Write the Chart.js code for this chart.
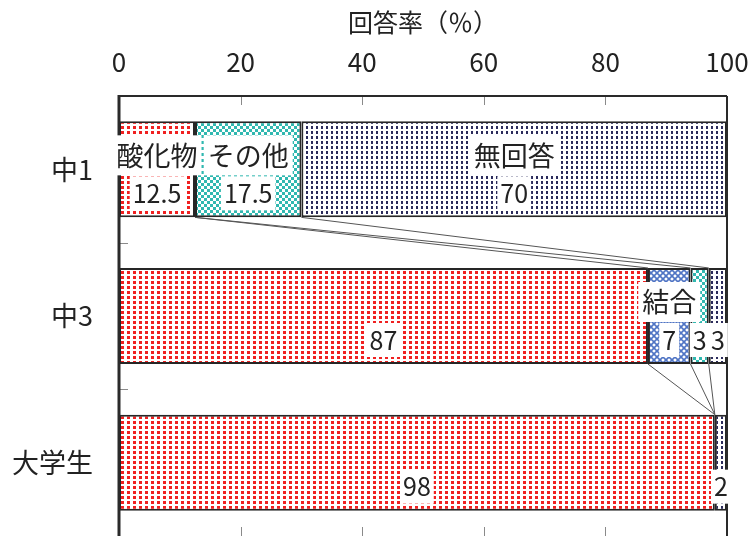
<!DOCTYPE html>
<html lang="ja">
<head>
  <meta charset="UTF-8" />
  <title>回答率</title>
  <script src="https://cdn.jsdelivr.net/npm/chart.js"></script>
  <style>
    body { margin: 0; background: #ffffff; overflow: hidden; }
    #wrap { width: 750px; height: 536px; }
    canvas { display: block; }
  </style>
</head>
<body>
<div id="wrap"><canvas id="rateChart" width="750" height="536"></canvas></div>

<script>
  const groups = ["中1", "中3", "大学生"];
  const seriesNames = ["酸化物", "結合", "その他", "無回答"];
  const oxideVals  = [12.5, 87, 98];
  const bondVals   = [0, 7, 0];
  const otherVals  = [17.5, 3, 0];
  const noAnsVals  = [70, 3, 2];
  // which segments also print the series name above the value
  const oxideName = [true, false, false];
  const bondName  = [false, true, false];
  const otherName = [true, false, false];
  const noAnsName = [true, false, false];
  const xTicks = [0, 20, 40, 60, 80, 100];

  const FONT = '"Noto Sans CJK JP", "Noto Sans", sans-serif';
  const INK = "#222222";

  function makePattern(w, h, draw) {
    const c = document.createElement("canvas");
    c.width = w; c.height = h;
    const g = c.getContext("2d");
    g.fillStyle = "#ffffff";
    g.fillRect(0, 0, w, h);
    draw(g);
    return g.createPattern(c, "repeat");
  }

  const redDots = makePattern(6, 5, g => {
    g.fillStyle = "#f02020";
    g.fillRect(1, 1, 3, 3);
  });
  const blueHatch = makePattern(6, 6, g => {
    g.strokeStyle = "#4f74c4";
    g.lineWidth = 1.6;
    g.beginPath();
    g.moveTo(-1, -1); g.lineTo(7, 7);
    g.moveTo(7, -1); g.lineTo(-1, 7);
    g.stroke();
  });
  const tealCheck = makePattern(6, 6, g => {
    g.fillStyle = "#30b8b0";
    g.fillRect(0, 0, 3, 3);
    g.fillRect(3, 3, 3, 3);
  });
  const navyDots = makePattern(5, 5, g => {
    g.fillStyle = "#2b2b5c";
    g.fillRect(1, 1, 2, 3);
  });

  const seriesVals = [oxideVals, bondVals, otherVals, noAnsVals];
  const seriesShowName = [oxideName, bondName, otherName, noAnsName];
  const fills = [redDots, blueHatch, tealCheck, navyDots];

  // cumulative right edge of each series, per group
  function cumEnd(s, i) {
    let t = 0;
    for (let k = 0; k <= s; k++) t += seriesVals[k][i];
    return t;
  }

  function boxText(ctx, text, x, y, padX, boxH) {
    const w = ctx.measureText(text).width;
    ctx.fillStyle = "#ffffff";
    ctx.fillRect(x - w / 2 - padX, y - boxH / 2, w + padX * 2, boxH);
    ctx.fillStyle = INK;
    ctx.fillText(text, x, y);
  }

  const overlay = {
    id: "overlay",
    afterDatasetsDraw(chart) {
      const ctx = chart.ctx;
      const xs = chart.scales.x;
      const area = chart.chartArea;
      const bars = chart.getDatasetMeta(0).data;

      ctx.save();
      // series lines between neighbouring bars
      ctx.strokeStyle = "#555555";
      ctx.lineWidth = 1;
      for (let i = 0; i < groups.length - 1; i++) {
        const a = bars[i], b = bars[i + 1];
        const yTop = a.y + a.height / 2;
        const yBot = b.y - b.height / 2;
        for (let s = 0; s < seriesVals.length; s++) {
          ctx.beginPath();
          ctx.moveTo(xs.getPixelForValue(cumEnd(s, i)), yTop);
          ctx.lineTo(xs.getPixelForValue(cumEnd(s, i + 1)), yBot);
          ctx.stroke();
        }
      }

      // inward tick marks
      ctx.strokeStyle = "#8a8a8a";
      ctx.lineWidth = 1;
      xTicks.slice(1, -1).forEach(v => {
        const px = Math.round(xs.getPixelForValue(v)) + 0.5;
        ctx.beginPath();
        ctx.moveTo(px, area.top); ctx.lineTo(px, area.top + 9);
        ctx.moveTo(px, area.bottom); ctx.lineTo(px, area.bottom - 9);
        ctx.stroke();
      });
      const band = (area.bottom - area.top) / groups.length;
      for (let i = 1; i < groups.length; i++) {
        const py = Math.round(area.top + band * i) + 0.5;
        ctx.beginPath();
        ctx.moveTo(area.left, py); ctx.lineTo(area.left + 9, py);
        ctx.stroke();
      }

      // plot frame
      ctx.strokeStyle = "#2a2a2a";
      ctx.lineWidth = 2;
      ctx.beginPath();
      ctx.moveTo(area.left, area.top); ctx.lineTo(area.right, area.top);
      ctx.moveTo(area.right, area.top); ctx.lineTo(area.right, area.bottom);
      ctx.stroke();
      ctx.lineWidth = 3;
      ctx.beginPath();
      ctx.moveTo(area.left, area.top - 1); ctx.lineTo(area.left, area.bottom);
      ctx.stroke();
      ctx.restore();
    },
    afterDraw(chart) {
      const ctx = chart.ctx;
      const xs = chart.scales.x;
      ctx.save();
      ctx.textAlign = "center";
      ctx.textBaseline = "middle";
      seriesVals.forEach((vals, s) => {
        const meta = chart.getDatasetMeta(s);
        vals.forEach((v, i) => {
          if (!v) return;
          const start = cumEnd(s, i) - v;
          const cx = xs.getPixelForValue(start + v / 2);
          const cy = meta.data[i].y;
          if (seriesShowName[s][i]) {
            ctx.font = "27px " + FONT;
            boxText(ctx, seriesNames[s], cx, cy - 14, 4, 40);
          }
          ctx.font = "25px " + FONT;
          boxText(ctx, String(v), cx, cy + 24, 3, 34);
        });
      });
      ctx.restore();
    }
  };

  new Chart(document.getElementById("rateChart"), {
    type: "bar",
    data: {
      labels: groups,
      datasets: seriesNames.map((name, s) => ({
        label: name,
        data: seriesVals[s],
        backgroundColor: fills[s],
        borderColor: "#262626",
        borderWidth: 2,
        borderSkipped: false,
        categoryPercentage: 1,
        barPercentage: 0.655
      }))
    },
    options: {
      indexAxis: "y",
      responsive: false,
      animation: false,
      layout: { padding: { top: 0, right: 23, bottom: 0, left: 0 } },
      plugins: {
        legend: { display: false },
        tooltip: { enabled: false }
      },
      scales: {
        x: {
          type: "linear",
          position: "top",
          stacked: true,
          min: 0,
          max: 100,
          afterFit(scale) {
            scale.height = 96;
            scale.paddingLeft = 0;
            scale.paddingRight = 0;
          },
          afterBuildTicks(scale) { scale.ticks = xTicks.map(v => ({ value: v })); },
          grid: { display: false, drawTicks: false },
          border: { display: false },
          ticks: {
            padding: 18,
            color: INK,
            font: { family: FONT, size: 26 }
          },
          title: {
            display: true,
            text: "回答率（％）",
            color: INK,
            padding: { top: 7, bottom: 0 },
            font: { family: FONT, size: 25 }
          }
        },
        y: {
          stacked: true,
          afterFit(scale) {
            scale.width = 119;
            scale.paddingTop = 0;
            scale.paddingBottom = 0;
          },
          grid: { display: false, drawTicks: false },
          border: { display: false },
          ticks: {
            padding: 26,
            color: INK,
            font: { family: FONT, size: 27 }
          }
        }
      }
    },
    plugins: [overlay]
  });
</script>
</body>
</html>
